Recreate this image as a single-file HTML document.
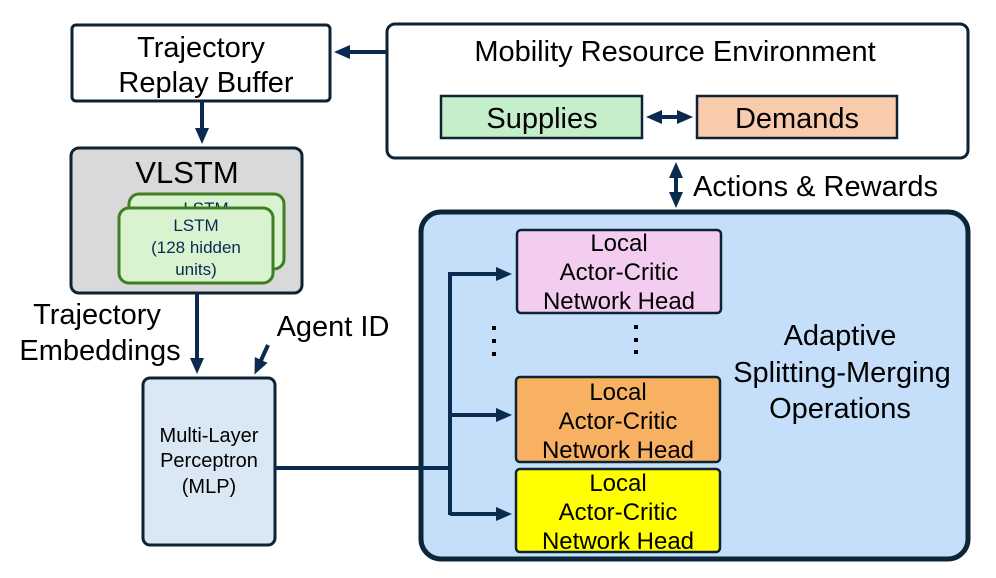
<!DOCTYPE html>
<html><head><style>body{margin:0;background:#fff}svg{display:block}text{font-family:"Liberation Sans",sans-serif;fill:#000}</style></head><body>
<svg width="996" height="578" viewBox="0 0 996 578" xmlns="http://www.w3.org/2000/svg">
<defs>
<marker id="a" markerWidth="16" markerHeight="16" refX="10" refY="8" orient="auto" markerUnits="userSpaceOnUse" viewBox="0 0 16 16"><path d="M0,1 L16,8 L0,15 z" fill="#0b2a4f"/></marker>
</defs>
<rect x="72" y="25" width="258" height="76" rx="4" fill="#fff" stroke="#0d2233" stroke-width="3"/>
<text x="201" y="57" font-size="29" text-anchor="middle">Trajectory</text>
<text x="206" y="92" font-size="29" text-anchor="middle">Replay Buffer</text>
<rect x="387" y="24" width="581" height="134" rx="8" fill="#fff" stroke="#0d2233" stroke-width="3"/>
<text x="675" y="61" font-size="29" text-anchor="middle">Mobility Resource Environment</text>
<rect x="441" y="96" width="201" height="42" fill="#c5eecb" stroke="#0d2233" stroke-width="2.5"/>
<text x="542" y="128" font-size="29" text-anchor="middle">Supplies</text>
<rect x="697" y="96" width="200" height="42" fill="#f8cbad" stroke="#0d2233" stroke-width="2.5"/>
<text x="797" y="128" font-size="29" text-anchor="middle">Demands</text>
<text x="693" y="196" font-size="29">Actions &amp; Rewards</text>
<rect x="71" y="148" width="231" height="145" rx="8" fill="#d9d9d9" stroke="#0d2233" stroke-width="3"/>
<text x="187" y="183" font-size="31" text-anchor="middle">VLSTM</text>
<rect x="129" y="194" width="155" height="75" rx="10" fill="#d9f2d0" stroke="#3f7f22" stroke-width="3"/>
<text x="206" y="214" font-size="17" text-anchor="middle" style="fill:#0b2a4f">LSTM</text>
<rect x="119" y="208" width="154" height="75" rx="10" fill="#d9f2d0" stroke="#3f7f22" stroke-width="3"/>
<text x="196" y="231" font-size="17" text-anchor="middle" style="fill:#0b2a4f">LSTM</text>
<text x="196" y="253" font-size="17" text-anchor="middle" style="fill:#0b2a4f">(128 hidden</text>
<text x="196" y="275" font-size="17" text-anchor="middle" style="fill:#0b2a4f">units)</text>
<text x="97" y="324" font-size="29" text-anchor="middle">Trajectory</text>
<text x="100" y="360" font-size="29" text-anchor="middle">Embeddings</text>
<text x="333" y="336" font-size="29" text-anchor="middle">Agent ID</text>
<rect x="143" y="378" width="132" height="167" rx="7" fill="#dae8f5" stroke="#0d2233" stroke-width="3"/>
<text x="209" y="442" font-size="20" text-anchor="middle">Multi-Layer</text>
<text x="209" y="467" font-size="20" text-anchor="middle">Perceptron</text>
<text x="209" y="493" font-size="20" text-anchor="middle">(MLP)</text>
<rect x="421" y="212" width="547" height="347" rx="20" fill="#c5dffb" stroke="#0c2638" stroke-width="5"/>
<g stroke="#0b2a4f" stroke-width="4" fill="none">
<line x1="387" y1="52" x2="340" y2="52" marker-end="url(#a)"/>
<line x1="202" y1="101" x2="202" y2="138" marker-end="url(#a)"/>
<line x1="652" y1="117" x2="687" y2="117" marker-end="url(#a)"/>
<line x1="687" y1="117" x2="652" y2="117" marker-end="url(#a)"/>
<line x1="676" y1="168" x2="676" y2="202" marker-end="url(#a)"/>
<line x1="676" y1="202" x2="676" y2="168" marker-end="url(#a)"/>
<line x1="197" y1="293" x2="197" y2="368" marker-end="url(#a)"/>
<line x1="268" y1="345" x2="257" y2="369" marker-end="url(#a)"/>
<line x1="275" y1="468" x2="452" y2="468"/>
<polyline points="450,515 450,274 506,274" marker-end="url(#a)"/>
<line x1="450" y1="415" x2="506" y2="415" marker-end="url(#a)"/>
<line x1="450" y1="514" x2="506" y2="514" marker-end="url(#a)"/>
</g>
<rect x="517" y="230" width="204" height="83" rx="4" fill="#f2cdf0" stroke="#0d2233" stroke-width="2.5"/>
<text x="619" y="251" font-size="24" text-anchor="middle">Local</text>
<text x="619" y="280" font-size="24" text-anchor="middle">Actor-Critic</text>
<text x="619" y="309" font-size="24" text-anchor="middle">Network Head</text>
<rect x="516" y="377" width="204" height="85" rx="4" fill="#f8b162" stroke="#0d2233" stroke-width="2.5"/>
<text x="618" y="400" font-size="24" text-anchor="middle">Local</text>
<text x="618" y="429" font-size="24" text-anchor="middle">Actor-Critic</text>
<text x="618" y="458" font-size="24" text-anchor="middle">Network Head</text>
<rect x="516" y="469" width="204" height="83" rx="4" fill="#ffff00" stroke="#0d2233" stroke-width="2.5"/>
<text x="618" y="491" font-size="24" text-anchor="middle">Local</text>
<text x="618" y="520" font-size="24" text-anchor="middle">Actor-Critic</text>
<text x="618" y="549" font-size="24" text-anchor="middle">Network Head</text>
<g fill="#000">
<rect x="492" y="326" width="4" height="4"/><rect x="492" y="339" width="4" height="4"/><rect x="492" y="352" width="4" height="4"/>
<rect x="634" y="325" width="4" height="4"/><rect x="634" y="338" width="4" height="4"/><rect x="634" y="350" width="4" height="4"/>
</g>
<text x="840" y="345" font-size="29" text-anchor="middle">Adaptive</text>
<text x="842" y="382" font-size="29" text-anchor="middle">Splitting-Merging</text>
<text x="840" y="418" font-size="29" text-anchor="middle">Operations</text>
</svg>
</body></html>
